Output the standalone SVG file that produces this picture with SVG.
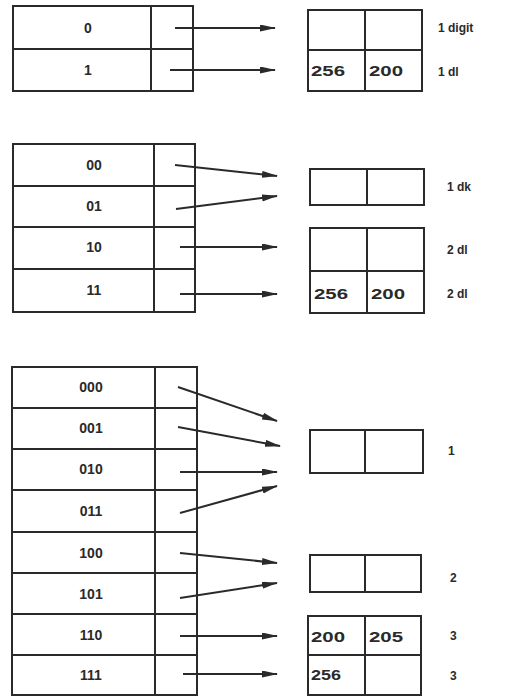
<svg xmlns="http://www.w3.org/2000/svg" width="514" height="697" viewBox="0 0 514 697">
<defs>
<style>
.b{fill:none;stroke:#2a2a2a;stroke-width:2}
.c{stroke:#2a2a2a;stroke-width:2;fill:none}
.t{font-family:"Liberation Sans",Arial,sans-serif;font-size:14px;font-weight:bold;fill:#2a2a2a;text-anchor:middle;dominant-baseline:central}
.n{font-family:"Liberation Sans",Arial,sans-serif;font-size:15px;font-weight:bold;fill:#2a2a2a;dominant-baseline:central}
.l{font-family:"Liberation Sans",Arial,sans-serif;font-size:12px;font-weight:bold;fill:#2a2a2a;dominant-baseline:central}
</style>
<marker id="ah" markerUnits="userSpaceOnUse" markerWidth="16" markerHeight="8" refX="15" refY="3.5" orient="auto">
<path d="M0,0 L16,3.5 L0,7 z" fill="#2a2a2a"/>
</marker>
</defs>
<rect width="514" height="697" fill="#ffffff"/>

<g id="table1">
<rect class="b" x="13" y="6" width="180" height="85"/>
<line class="b" x1="13" y1="49" x2="193" y2="49"/>
<line class="b" x1="151" y1="6" x2="151" y2="91"/>
<text class="t" x="88" y="28">0</text>
<text class="t" x="88" y="70">1</text>
</g>
<g id="bucket1a">
<rect class="b" x="308" y="10" width="114" height="81"/>
<line class="b" x1="308" y1="50" x2="422" y2="50"/>
<line class="b" x1="365" y1="10" x2="365" y2="91"/>
<text class="n" x="311" y="70" textLength="34" lengthAdjust="spacingAndGlyphs">256</text>
<text class="n" x="369" y="70" textLength="34" lengthAdjust="spacingAndGlyphs">200</text>
<text class="l" x="438" y="28">1 digit</text>
<text class="l" x="438" y="72">1 dl</text>
</g>

<g id="table2">
<rect class="b" x="13" y="144" width="182" height="168"/>
<line class="b" x1="13" y1="186" x2="195" y2="186"/>
<line class="b" x1="13" y1="227" x2="195" y2="227"/>
<line class="b" x1="13" y1="269" x2="195" y2="269"/>
<line class="b" x1="154" y1="144" x2="154" y2="312"/>
<text class="t" x="94" y="165">00</text>
<text class="t" x="94" y="206">01</text>
<text class="t" x="94" y="247">10</text>
<text class="t" x="94" y="290">11</text>
</g>
<g id="bucket2a">
<rect class="b" x="310" y="169" width="114" height="36"/>
<line class="b" x1="367" y1="169" x2="367" y2="205"/>
<text class="l" x="447" y="187">1 dk</text>
</g>
<g id="bucket2b">
<rect class="b" x="310" y="228" width="114" height="85"/>
<line class="b" x1="310" y1="271" x2="424" y2="271"/>
<line class="b" x1="367" y1="228" x2="367" y2="313"/>
<text class="n" x="314" y="293" textLength="34" lengthAdjust="spacingAndGlyphs">256</text>
<text class="n" x="371" y="293" textLength="34" lengthAdjust="spacingAndGlyphs">200</text>
<text class="l" x="447" y="250">2 dl</text>
<text class="l" x="447" y="294">2 dl</text>
</g>

<g id="table3">
<rect class="b" x="12" y="367" width="185" height="328"/>
<line class="b" x1="12" y1="408" x2="197" y2="408"/>
<line class="b" x1="12" y1="449" x2="197" y2="449"/>
<line class="b" x1="12" y1="490" x2="197" y2="490"/>
<line class="b" x1="12" y1="532" x2="197" y2="532"/>
<line class="b" x1="12" y1="573" x2="197" y2="573"/>
<line class="b" x1="12" y1="614" x2="197" y2="614"/>
<line class="b" x1="12" y1="655" x2="197" y2="655"/>
<line class="b" x1="155" y1="367" x2="155" y2="695"/>
<text class="t" x="91" y="387">000</text>
<text class="t" x="91" y="428">001</text>
<text class="t" x="91" y="469">010</text>
<text class="t" x="91" y="511">011</text>
<text class="t" x="91" y="553">100</text>
<text class="t" x="91" y="594">101</text>
<text class="t" x="91" y="635">110</text>
<text class="t" x="91" y="675">111</text>
</g>
<g id="bucket3a">
<rect class="b" x="310" y="430" width="113" height="43"/>
<line class="b" x1="365" y1="430" x2="365" y2="473"/>
<text class="l" x="448" y="451">1</text>
</g>
<g id="bucket3b">
<rect class="b" x="310" y="555" width="111" height="37"/>
<line class="b" x1="365" y1="555" x2="365" y2="592"/>
<text class="l" x="450" y="578">2</text>
</g>
<g id="bucket3c">
<rect class="b" x="308" y="616" width="113" height="79"/>
<line class="b" x1="308" y1="655" x2="421" y2="655"/>
<line class="b" x1="365" y1="616" x2="365" y2="695"/>
<text class="n" x="311" y="636" textLength="34" lengthAdjust="spacingAndGlyphs">200</text>
<text class="n" x="369" y="636" textLength="34" lengthAdjust="spacingAndGlyphs">205</text>
<text class="n" x="311" y="674" textLength="30" lengthAdjust="spacingAndGlyphs">256</text>
<text class="l" x="450" y="636">3</text>
<text class="l" x="450" y="676">3</text>
</g>

<g id="connectors">
<line class="c" x1="175" y1="28" x2="275" y2="28" marker-end="url(#ah)"/>
<line class="c" x1="170" y1="70" x2="275" y2="70" marker-end="url(#ah)"/>
<line class="c" x1="175" y1="165" x2="277" y2="176" marker-end="url(#ah)"/>
<line class="c" x1="176" y1="209" x2="277" y2="196" marker-end="url(#ah)"/>
<line class="c" x1="180" y1="247" x2="277" y2="247" marker-end="url(#ah)"/>
<line class="c" x1="180" y1="294" x2="277" y2="294" marker-end="url(#ah)"/>
<line class="c" x1="178" y1="387" x2="277" y2="421" marker-end="url(#ah)"/>
<line class="c" x1="178" y1="427" x2="280" y2="446" marker-end="url(#ah)"/>
<line class="c" x1="180" y1="472" x2="277" y2="472" marker-end="url(#ah)"/>
<line class="c" x1="180" y1="513" x2="277" y2="486" marker-end="url(#ah)"/>
<line class="c" x1="180" y1="553" x2="277" y2="563" marker-end="url(#ah)"/>
<line class="c" x1="180" y1="598" x2="277" y2="583" marker-end="url(#ah)"/>
<line class="c" x1="180" y1="636" x2="277" y2="636" marker-end="url(#ah)"/>
<line class="c" x1="183" y1="674" x2="277" y2="674" marker-end="url(#ah)"/>
</g>
</svg>
